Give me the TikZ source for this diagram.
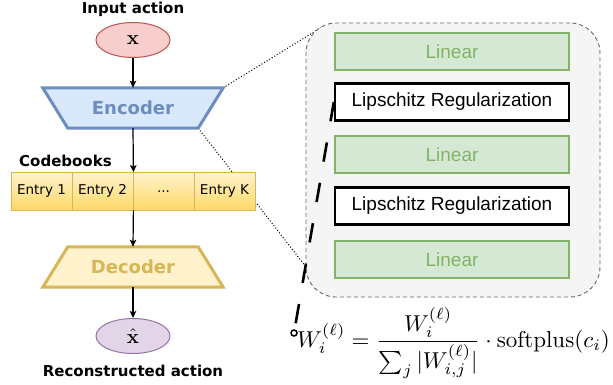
\documentclass[tikz,border=0pt]{standalone}
\usepackage[no-math]{fontspec}
\usepackage{graphicx}
\newfontfamily\dejavu{DejaVu Sans}
\newfontfamily\arialfont{Liberation Sans}
\usetikzlibrary{arrows.meta,shapes.geometric,backgrounds}

\definecolor{redfill}{HTML}{F8CECC}
\definecolor{redline}{HTML}{B85450}
\definecolor{purfill}{HTML}{E1D5E7}
\definecolor{purline}{HTML}{9673A6}
\definecolor{encfill}{HTML}{DAE8FC}
\definecolor{encline}{HTML}{6C8EBF}
\definecolor{decfill}{HTML}{FFF2CC}
\definecolor{decline}{HTML}{D6B656}
\definecolor{cbtop}{HTML}{FFF2CC}
\definecolor{cbbot}{HTML}{FFD966}
\definecolor{linfill}{HTML}{D5E8D4}
\definecolor{linline}{HTML}{82B366}
\definecolor{panelfill}{HTML}{F5F5F5}
\definecolor{panelline}{HTML}{666666}

\tikzset{
  lbl/.style={font=\dejavu\bfseries\fontsize{15}{18}\selectfont, inner sep=0},
  flow/.style={-{Stealth[length=7pt,width=6.5pt,inset=1.5pt]}, line width=1.2pt},
  entry/.style={draw=decline, line width=0.8pt, top color=cbtop, bottom color=cbbot,
    minimum width=61pt, minimum height=37.5pt, inner sep=0,
    font=\dejavu\fontsize{13.5}{15}\selectfont},
  io/.style={ellipse, minimum width=74pt, minimum height=35pt, line width=1pt, inner sep=0},
  coder/.style={minimum width=180pt, minimum height=40pt, inner sep=0,
    font=\dejavu\bfseries\fontsize{18}{21}\selectfont},
  layer/.style={minimum width=234pt, minimum height=37pt, inner sep=0, line width=2.3pt,
    font=\arialfont\fontsize{19}{22}\selectfont},
  zoomline/.style={line width=1pt, dash pattern=on 1pt off 2pt},
}

\begin{document}
\begin{tikzpicture}[x=1pt,y=-1pt]
\useasboundingbox (0,0) rectangle (613,385);

% left column: encoder -> codebook -> decoder
\node[lbl] (inlbl) at (133,9) {Input action};
\node[io, fill=redfill, draw=redline] (x) at (133,40) {\scalebox{2}{$\mathbf{x}$}};
\node[coder, text=encline] (enc) at (133,108) {Encoder};
\node[lbl, anchor=west] (cblbl) at (19,161) {Codebooks};

% zoom lines from the encoder to the detail panel (under the codebook)
\coordinate (c1) at (322,27);
\coordinate (c2) at (306,267);
\begin{scope}[on background layer]
  \draw[zoomline] (enc.north east) -- (c1);
  \draw[zoomline] ([xshift=-25pt]enc.south east) -- (c2);
  \draw[fill=encfill, draw=encline, line width=3pt]
    (enc.north west) -- (enc.north east) -- ([xshift=-25pt]enc.south east)
    -- ([xshift=25pt]enc.south west) -- cycle;
\end{scope}

\node[entry] (e1) at (41.5,191.25) {Entry 1};
\node[entry] (e2) at (102.5,191.25) {Entry 2};
\node[entry] (e3) at (163.5,191.25) {...};
\node[entry] (e4) at (224.5,191.25) {Entry K};

\node[coder, text=decline] (dec) at (133,267) {Decoder};
\begin{scope}[on background layer]
  \draw[fill=decfill, draw=decline, line width=3pt]
    ([xshift=25pt]dec.north west) -- ([xshift=-25pt]dec.north east)
    -- (dec.south east) -- (dec.south west) -- cycle;
\end{scope}
\node[io, fill=purfill, draw=purline] (xh) at (133,336) {\scalebox{2}{$\hat{\mathbf{x}}$}};
\node[lbl] (outlbl) at (133,371) {Reconstructed action};

\draw[flow] (x) -- (enc.north);
\draw[flow] (enc.south) -- (e2.north east);
\draw[flow] (e2.south east) -- (dec.north);
\draw[flow] (dec.south) -- (xh);

% detail panel
\node[draw=panelline, fill=panelfill, rounded corners=30pt, dash pattern=on 4pt off 3pt,
  line width=0.9pt, minimum width=294pt, minimum height=274pt] (panel) at (453,160) {};
\node[layer, fill=linfill, draw=linline, text=linline] (l1) at (452,51.5) {Linear};
\node[layer, fill=white, draw=black] (r1) at (452,102) {Lipschitz Regularization};
\node[layer, fill=linfill, draw=linline, text=linline] (l2) at (452,154.5) {Linear};
\node[layer, fill=white, draw=black] (r2) at (452,206) {Lipschitz Regularization};
\node[layer, fill=linfill, draw=linline, text=linline] (l3) at (452,259.5) {Linear};

% normalisation formula
\node[circle, draw, line width=1.5pt, fill=white, minimum size=6pt, inner sep=0] (tip) at (294,333) {};
\draw[line width=2.6pt, dash pattern=on 19.5pt off 21.5pt] (r1.west) -- (tip);
\node[anchor=base west, inner sep=0] (eq) at (297,347)
  {\scalebox{2.3}{$\displaystyle W_i^{(\ell)} = \frac{W_i^{(\ell)}}{\sum_j |W_{i,j}^{(\ell)}|} \cdot \mathrm{softplus}(c_i)$}};
\end{tikzpicture}
\end{document}
